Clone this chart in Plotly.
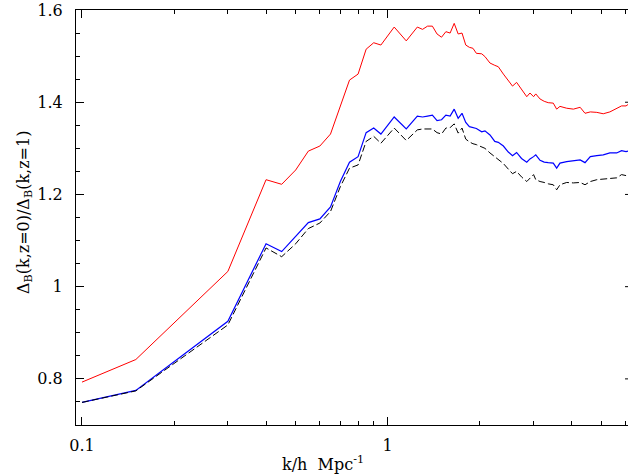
import plotly.graph_objects as go

k = [0.1, 0.15, 0.3, 0.4, 0.45, 0.5, 0.55, 0.6, 0.65, 0.7, 0.75, 0.8, 0.85, 0.9, 0.95,
     1.05, 1.15, 1.25, 1.3, 1.35, 1.4, 1.45, 1.5, 1.55, 1.6, 1.65, 1.7, 1.75, 1.8, 1.85,
     1.9, 1.95, 2.03, 2.08, 2.16, 2.24, 2.30, 2.39, 2.48, 2.56, 2.64, 2.74, 2.85, 2.92,
     3.0, 3.05, 3.15, 3.25, 3.35, 3.48, 3.57, 3.66, 3.85, 4.05, 4.26, 4.42, 4.6, 4.83,
     5.07, 5.33, 5.61, 5.82, 6.02, 6.11]

red = [0.793, 0.842, 1.033, 1.232, 1.222, 1.253, 1.294, 1.305, 1.331, 1.39, 1.448, 1.461,
       1.515, 1.529, 1.524, 1.563, 1.533, 1.563, 1.558, 1.565, 1.565, 1.548, 1.541, 1.553,
       1.550, 1.571, 1.548, 1.550, 1.524, 1.519, 1.517, 1.506, 1.505, 1.499, 1.485, 1.480,
       1.477, 1.461, 1.448, 1.435, 1.443, 1.427, 1.412, 1.420, 1.412, 1.418, 1.407, 1.402,
       1.399, 1.398, 1.385, 1.391, 1.387, 1.385, 1.389, 1.376, 1.379, 1.378, 1.375, 1.379,
       1.387, 1.392, 1.392, 1.395]

blue = [0.749, 0.775, 0.925, 1.093, 1.076, 1.108, 1.139, 1.147, 1.173, 1.228, 1.270, 1.282,
        1.334, 1.344, 1.331, 1.368, 1.342, 1.370, 1.368, 1.370, 1.372, 1.360, 1.362, 1.372,
        1.370, 1.385, 1.365, 1.376, 1.356, 1.347, 1.345, 1.343, 1.336, 1.338, 1.329, 1.315,
        1.313, 1.305, 1.292, 1.284, 1.291, 1.278, 1.270, 1.277, 1.282, 1.286, 1.274, 1.270,
        1.269, 1.268, 1.257, 1.268, 1.271, 1.273, 1.275, 1.269, 1.282, 1.284, 1.286, 1.290,
        1.290, 1.295, 1.293, 1.294]

black = [0.749, 0.774, 0.917, 1.084, 1.065, 1.093, 1.126, 1.138, 1.163, 1.217, 1.257, 1.264,
         1.315, 1.326, 1.311, 1.344, 1.317, 1.340, 1.342, 1.342, 1.342, 1.334, 1.331, 1.344,
         1.345, 1.353, 1.333, 1.344, 1.320, 1.314, 1.310, 1.308, 1.304, 1.300, 1.290, 1.282,
         1.277, 1.267, 1.255, 1.245, 1.250, 1.238, 1.228, 1.236, 1.243, 1.232, 1.228, 1.226,
         1.223, 1.221, 1.210, 1.221, 1.226, 1.225, 1.226, 1.221, 1.228, 1.232, 1.233, 1.235,
         1.236, 1.243, 1.241, 1.240]

x_major = [0.1, 1]
x_major_text = ["0.1", "1"]
x_minor = [0.2, 0.3, 0.4, 0.5, 0.6, 0.7, 0.8, 0.9, 2, 3, 4, 5, 6]
y_major = [0.8, 1.0, 1.2, 1.4, 1.6]
y_major_text = ["0.8", "1", "1.2", "1.4", "1.6"]
y_minor = [0.75, 0.85, 0.9, 0.95, 1.05, 1.1, 1.15, 1.25, 1.3, 1.35, 1.45, 1.5, 1.55]

FONT = "DejaVu Serif"

fig = go.Figure()
fig.add_trace(go.Scatter(x=k, y=red, mode="lines", line=dict(color="#ff0000", width=1)))
fig.add_trace(go.Scatter(x=k, y=blue, mode="lines", line=dict(color="#0000ff", width=1.2)))
fig.add_trace(go.Scatter(x=k, y=black, mode="lines",
                         line=dict(color="black", width=1, dash="7px,3px")))

fig.update_layout(
    width=628, height=474,
    margin=dict(l=76, r=0, t=10, b=49),
    paper_bgcolor="white", plot_bgcolor="white",
    showlegend=False,
    font=dict(family=FONT, size=16, color="black"),
)

fig.update_xaxes(
    type="log", range=[-1.0196, 0.786],
    showline=True, linecolor="black", linewidth=1, mirror="ticks",
    ticks="inside", ticklen=8, tickwidth=1, tickcolor="black",
    tickvals=x_major, ticktext=x_major_text,
    minor=dict(tickvals=x_minor, ticks="inside", ticklen=4, tickwidth=1, tickcolor="black",
               showgrid=False),
    showgrid=False, zeroline=False,
    tickfont=dict(family=FONT, size=16, color="black"),
    ticklabelstandoff=6,
)
fig.update_yaxes(
    range=[0.7, 1.6],
    showline=True, linecolor="black", linewidth=1, mirror=False,
    ticks="inside", ticklen=8, tickwidth=1, tickcolor="black",
    tickvals=y_major, ticktext=y_major_text,
    minor=dict(tickvals=y_minor, ticks="inside", ticklen=4, tickwidth=1, tickcolor="black",
               showgrid=False),
    showgrid=False, zeroline=False,
    tickfont=dict(family=FONT, size=16, color="black"),
    ticklabelstandoff=9,
)

# right-hand major ticks (frame lies just beyond the visible area)
for yv in y_major[:-1]:
    fig.add_shape(type="line", xref="paper", yref="y", x0=0.9946, x1=1.0, y0=yv, y1=yv,
                  line=dict(color="black", width=1))

fig.add_annotation(
    text="k/h\u00a0\u00a0Mpc<sup>-1</sup>", xref="paper", yref="paper",
    x=0.4475, y=-0.0916, xanchor="center", yanchor="middle", showarrow=False,
    font=dict(family=FONT, size=16, color="black"),
)
fig.add_annotation(
    text="Δ<sub>B</sub>(k,z=0)/Δ<sub>B</sub>(k,z=1)", xref="paper", yref="paper",
    x=-0.0942, y=0.513, xanchor="center", yanchor="middle", textangle=-90, showarrow=False,
    font=dict(family=FONT, size=16, color="black"),
)

fig.write_html("out.html")
